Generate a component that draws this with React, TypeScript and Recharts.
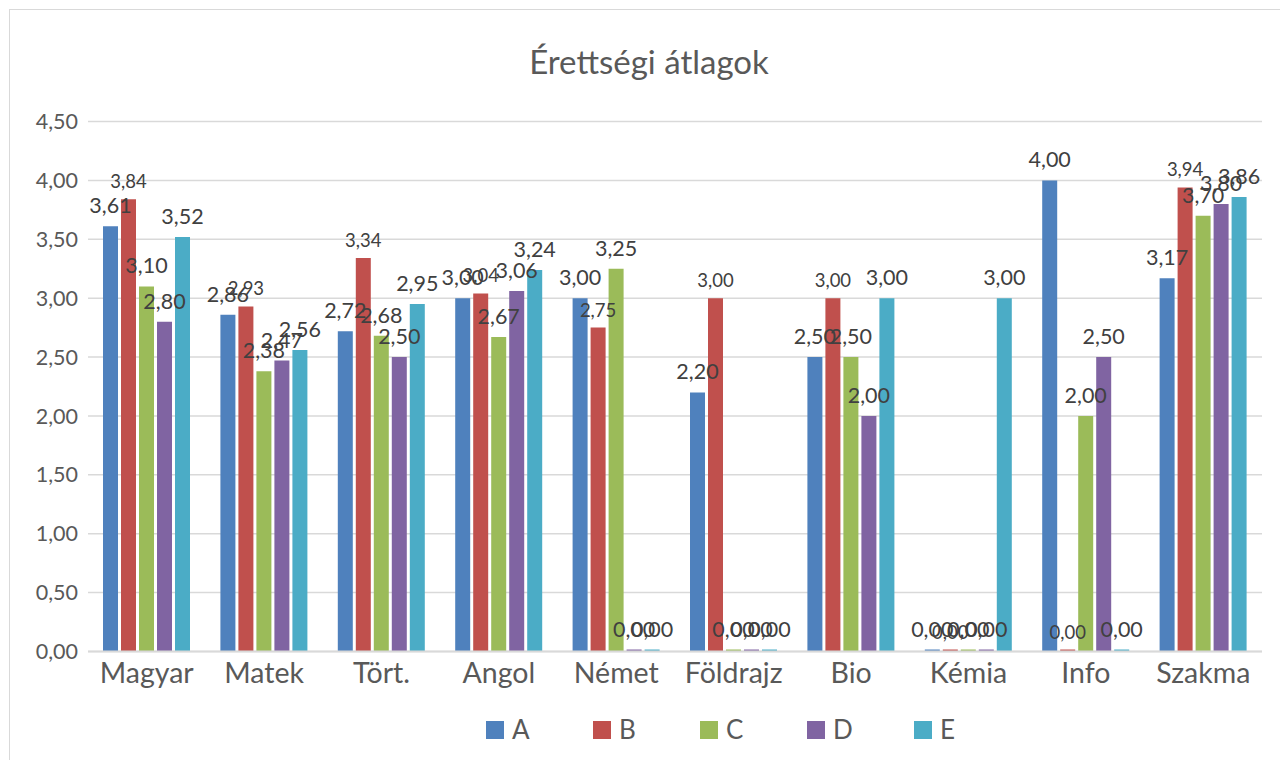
import React from 'react';
import { BarChart, Bar, XAxis, YAxis, CartesianGrid, LabelList } from 'recharts';

const categories = ['Magyar', 'Matek', 'Tört.', 'Angol', 'Német', 'Földrajz', 'Bio', 'Kémia', 'Info', 'Szakma'];
const seriesA = [3.61, 2.86, 2.72, 3.0, 3.0, 2.2, 2.5, 0, 4.0, 3.17];
const seriesB = [3.84, 2.93, 3.34, 3.04, 2.75, 3.0, 3.0, 0, 0, 3.94];
const seriesC = [3.1, 2.38, 2.68, 2.67, 3.25, 0, 2.5, 0, 2.0, 3.7];
const seriesD = [2.8, 2.47, 2.5, 3.06, 0, 0, 2.0, 0, 2.5, 3.8];
const seriesE = [3.52, 2.56, 2.95, 3.24, 0, 0, 3.0, 3.0, 0, 3.86];
const yTicks = [0, 0.5, 1, 1.5, 2, 2.5, 3, 3.5, 4, 4.5];
const seriesNames = ['A', 'B', 'C', 'D', 'E'];
const seriesColors = ['#4F81BD', '#C0504D', '#9BBB59', '#8064A2', '#4BACC6'];
const title = 'Érettségi átlagok';

const data = categories.map((c, i) => ({
  name: c,
  A: seriesA[i],
  B: seriesB[i],
  C: seriesC[i],
  D: seriesD[i],
  E: seriesE[i],
}));

const fmt = (v: any) => Number(v).toFixed(2).replace('.', ',');
const FONT = 'Lato, "Noto Sans", sans-serif';

export default function App() {
  return (
    <div style={{ position: 'absolute', left: 0, top: 0, width: 1280, height: 760, overflow: 'hidden', background: '#fff', fontFamily: FONT }}>
      <div style={{ position: 'absolute', left: 9, top: 9, width: 1400, height: 900, border: '1.5px solid #d9d9d9', boxSizing: 'border-box' }} />
      <div style={{ position: 'absolute', left: 0, top: 41, width: 1298, textAlign: 'center', fontSize: 33, lineHeight: '40px', color: '#595959' }}>{title}</div>
      <div style={{ position: 'absolute', left: 0, top: 0 }}>
        <BarChart width={1280} height={760} data={data} margin={{ top: 121.5, right: 18, left: 0, bottom: 68.5 }} barSize={15} barGap={3}>
          <CartesianGrid vertical={false} stroke="#d9d9d9" strokeWidth={1.5} />
          <XAxis
            dataKey="name"
            height={40}
            tickSize={0}
            tickMargin={11}
            axisLine={{ stroke: '#d9d9d9', strokeWidth: 2 }}
            tickLine={false}
            tick={{ fill: '#595959', fontSize: 28.5, fontFamily: FONT }}
            interval={0}
          />
          <YAxis
            width={88}
            domain={[0, 4.5]}
            ticks={yTicks}
            tickFormatter={fmt}
            axisLine={false}
            tickLine={false}
            tickSize={0}
            tickMargin={10}
            tick={{ fill: '#595959', fontSize: 21.5, fontFamily: FONT }}
          />
          {seriesNames.map((s, i) => (
            <Bar key={s} dataKey={s} fill={seriesColors[i]} isAnimationActive={false} minPointSize={2}>
              <LabelList
                dataKey={s}
                position="top"
                offset={s === 'B' ? 11 : 13}
                formatter={fmt}
                fill="#404040"
                fontSize={s === 'B' ? 18.5 : 21.5}
                fontFamily={FONT}
              />
            </Bar>
          ))}
        </BarChart>
      </div>
      {seriesNames.map((s, i) => (
        <div key={s} style={{ position: 'absolute', left: 486 + 107 * i, top: 720, height: 19, display: 'flex', alignItems: 'center' }}>
          <div style={{ width: 18, height: 18, background: seriesColors[i] }} />
          <div style={{ marginLeft: 8, fontSize: 26, lineHeight: '19px', color: '#595959' }}>{s}</div>
        </div>
      ))}
    </div>
  );
}
